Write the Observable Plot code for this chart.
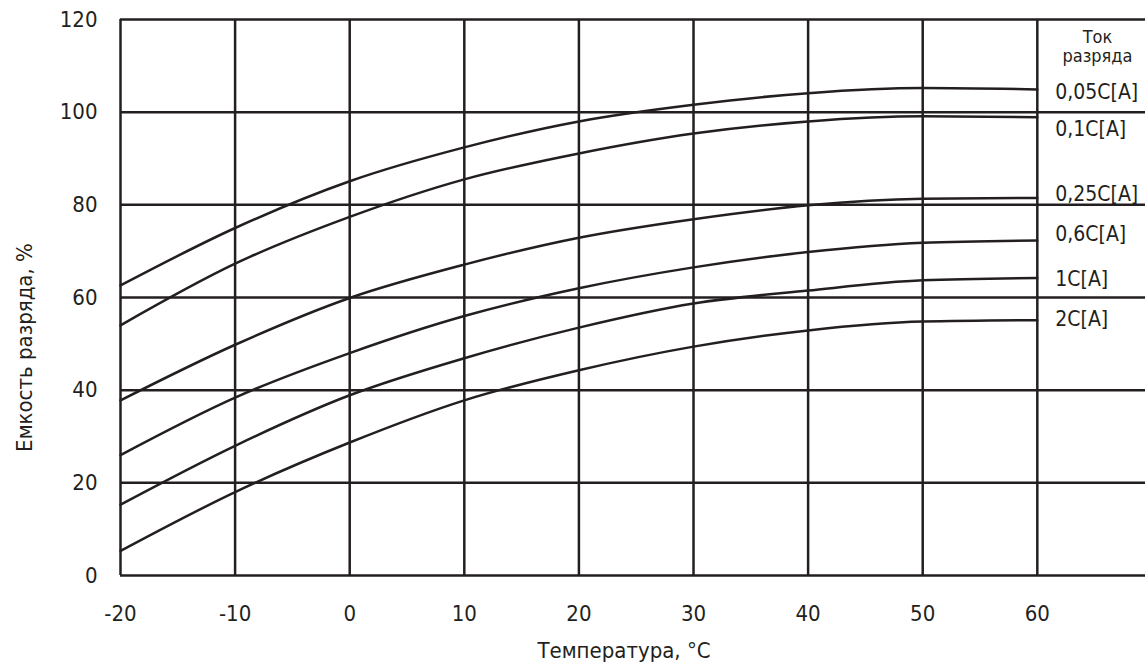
<!DOCTYPE html>
<html>
<head>
<meta charset="utf-8">
<script src="https://cdn.jsdelivr.net/npm/d3@7"></script>
<script src="https://cdn.jsdelivr.net/npm/@observablehq/plot@0.6"></script>
<style>
  html, body { margin: 0; padding: 0; background: #fff; }
</style>
</head>
<body>
<div id="chart"></div>
<script>
// ---- data ----
const temps = [-20, -10, 0, 10, 20, 30, 40, 50, 60];
const seriesNames = ["0,05C[A]", "0,1C[A]", "0,25C[A]", "0,6C[A]", "1C[A]", "2C[A]"];
const cap005 = [62.6, 75.0, 85.1, 92.4, 98.0, 101.6, 104.1, 105.2, 104.9];
const cap01  = [54.0, 67.3, 77.4, 85.5, 91.1, 95.4, 98.0, 99.1, 98.9];
const cap025 = [37.8, 49.8, 59.9, 67.1, 72.9, 76.9, 79.9, 81.3, 81.5];
const cap06  = [26.0, 38.4, 48.0, 56.0, 62.0, 66.5, 69.8, 71.8, 72.3];
const cap1   = [15.3, 28.0, 38.9, 46.9, 53.5, 58.7, 61.5, 63.7, 64.2];
const cap2   = [5.3, 18.0, 28.7, 37.8, 44.3, 49.4, 52.9, 54.8, 55.1];
const xTicks = [-20, -10, 0, 10, 20, 30, 40, 50, 60];
const yTicks = [0, 20, 40, 60, 80, 100, 120];
const xTitle = "Температура, °C";
const yTitle = "Емкость разряда, %";
const legendTitle = ["Ток", "разряда"];

// ---- build table ----
const seriesValues = [cap005, cap01, cap025, cap06, cap1, cap2];
const rows = [];
seriesNames.forEach((name, i) => {
  temps.forEach((t, j) => rows.push({series: name, t, v: seriesValues[i][j]}));
});
const ends = seriesNames.map((name, i) => ({series: name, t: temps[temps.length - 1], v: seriesValues[i][temps.length - 1]}));

const ink = "#231f20";
const font = "'DejaVu Sans Condensed', 'DejaVu Sans', sans-serif";
// label vertical nudges (px) relative to the curve end
const labelNudge = {"0,05C[A]": 3, "0,1C[A]": 12, "0,25C[A]": -4, "0,6C[A]": -6, "1C[A]": 1, "2C[A]": -1};

const chart = Plot.plot({
  width: 1145,
  height: 666,
  marginLeft: 120,
  marginRight: 0,
  marginTop: 19,
  marginBottom: 91,
  x: {domain: [-20, 69.44]},
  y: {domain: [0, 120]},
  style: {fontFamily: font, fontStretch: "condensed", fontSize: "22px", color: ink, background: "#fff"},
  marks: [
    Plot.ruleY(yTicks, {stroke: ink, strokeWidth: 2.5}),
    Plot.ruleX(xTicks, {y1: 0, y2: 120, stroke: ink, strokeWidth: 2.5}),
    Plot.line(rows, {x: "t", y: "v", z: "series", curve: "monotone-x", stroke: ink, strokeWidth: 2.5}),
    Plot.axisY(yTicks, {tickSize: 0, tickPadding: 23, label: null, tickFormat: d => String(d)}),
    Plot.axisX(xTicks, {tickSize: 0, tickPadding: 30, label: null, tickFormat: d => String(d)}),
    Plot.text(ends, {x: "t", y: "v", text: "series", textAnchor: "start", dx: 18, fill: ink, fontSize: 21}),
    Plot.text([xTitle], {frameAnchor: "bottom", textAnchor: "middle", dx: -9, dy: 82, fill: ink, fontSize: 22}),
    Plot.text([yTitle], {frameAnchor: "left", textAnchor: "middle", rotate: -90, dx: -96, dy: 50, fill: ink, fontSize: 22}),
    Plot.text([legendTitle.join("\n")], {frameAnchor: "top-right", textAnchor: "middle", dx: -48, dy: 9, lineHeight: 1.1, fill: ink, fontSize: 18})
  ]
});

// apply label nudges
chart.querySelectorAll("text").forEach(t => {
  const key = t.textContent;
  if (key in labelNudge) {
    const cur = t.getAttribute("transform") || "";
    t.setAttribute("transform", cur + ` translate(0,${labelNudge[key]})`);
  }
});

document.getElementById("chart").appendChild(chart);
</script>
</body>
</html>
